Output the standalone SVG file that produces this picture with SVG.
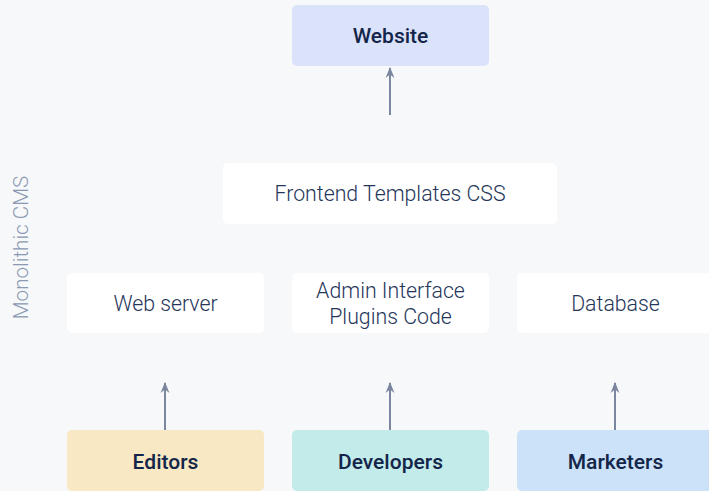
<svg xmlns="http://www.w3.org/2000/svg" width="709" height="491" viewBox="0 0 709 491">
<style>
.bg{fill:#f6f8fa}
.box{fill:#ffffff}
.t{font-family:Roboto,"Liberation Sans",sans-serif;font-size:21.3px;font-weight:300;fill:#26365a;text-anchor:middle}
.tb{font-family:"Roboto Medium",Roboto,"Liberation Sans",sans-serif;font-size:21px;font-weight:500;fill:#14254a;text-anchor:middle}
.side{font-family:Roboto,"Liberation Sans",sans-serif;font-size:20.7px;font-weight:300;fill:#8a98b2;text-anchor:middle}
.c{stroke:#7b879f;stroke-width:2;fill:none;marker-end:url(#ah)}
</style>
<defs>
<marker id="ah" viewBox="0 0 10 10" refX="9" refY="5" markerWidth="5.5" markerHeight="5.5" orient="auto" markerUnits="strokeWidth">
<path d="M0,1 L10,5 L0,9 L3,5 Z" fill="#7b879f"/>
</marker>
</defs>
<rect class="bg" x="0" y="0" width="709" height="491"/>
<text class="side" transform="translate(28,247.5) rotate(-90)">Monolithic CMS</text>
<g id="website"><rect x="292" y="5" width="197" height="61" rx="5" fill="#dbe3fa"/><text class="tb" x="390.5" y="43">Website</text></g>
<g id="frontend"><rect class="box" x="223" y="163" width="334" height="61" rx="5"/><text class="t" x="390" y="201">Frontend Templates CSS</text></g>
<g id="webserver"><rect class="box" x="67" y="273" width="197" height="60" rx="5"/><text class="t" x="165.5" y="311">Web server</text></g>
<g id="admin"><rect class="box" x="292" y="273" width="197" height="60" rx="5"/><text class="t" x="390.5" y="298">Admin Interface</text><text class="t" x="390.5" y="324">Plugins Code</text></g>
<g id="database"><rect class="box" x="517" y="273" width="197" height="60" rx="5"/><text class="t" x="615.5" y="311">Database</text></g>
<g id="editors"><rect x="67" y="430" width="197" height="61" rx="5" fill="#f8e8c3"/><text class="tb" x="165.5" y="469">Editors</text></g>
<g id="developers"><rect x="292" y="430" width="197" height="61" rx="5" fill="#c2ebe9"/><text class="tb" x="390.5" y="469">Developers</text></g>
<g id="marketers"><rect x="517" y="430" width="197" height="61" rx="5" fill="#cbe2f9"/><text class="tb" x="615.5" y="469">Marketers</text></g>
<g id="connectors">
<line class="c" x1="390" y1="115" x2="390" y2="68"/>
<line class="c" x1="165" y1="430" x2="165" y2="383"/>
<line class="c" x1="390" y1="430" x2="390" y2="383"/>
<line class="c" x1="615" y1="430" x2="615" y2="383"/>
</g>
</svg>
